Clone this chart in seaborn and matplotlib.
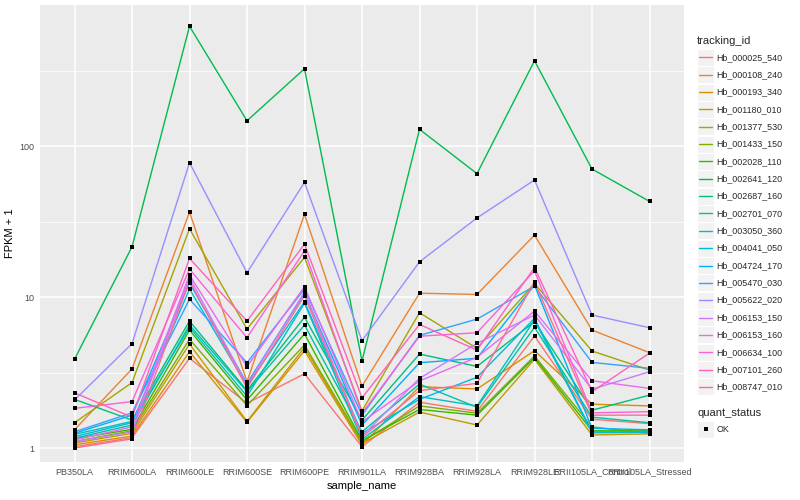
import numpy as np
import pandas as pd
import matplotlib
matplotlib.use('Agg')
import matplotlib.pyplot as plt
import seaborn as sns

# ---------------------------------------------------------------
# data (FPKM + 1)
# ---------------------------------------------------------------
sample_names = ['PB350LA', 'RRIM600LA', 'RRIM600LE', 'RRIM600SE', 'RRIM600PE',
                'RRIM901LA', 'RRIM928BA', 'RRIM928LA', 'RRIM928LE',
                'RRII105LA_Control', 'RRII105LA_Stressed']

tracking_ids = ['Hb_000025_540', 'Hb_000108_240', 'Hb_000193_340', 'Hb_001180_010',
                'Hb_001377_530', 'Hb_001433_150', 'Hb_002028_110', 'Hb_002641_120',
                'Hb_002687_160', 'Hb_002701_070', 'Hb_003050_360', 'Hb_004041_050',
                'Hb_004724_170', 'Hb_005470_030', 'Hb_005622_020', 'Hb_006153_150',
                'Hb_006153_160', 'Hb_006634_100', 'Hb_007101_260', 'Hb_008747_010']

fpkm_000025_540 = [1.02, 1.17, 3.93, 1.98, 3.10, 1.02, 2.01, 1.75, 5.52, 1.55, 1.45]
fpkm_000108_240 = [1.32, 3.34, 36.5, 2.75, 35.3, 2.57, 10.6, 10.4, 25.7, 6.04, 4.28]
fpkm_000193_340 = [1.05, 1.20, 4.34, 1.48, 4.41, 1.05, 2.55, 2.46, 4.41, 1.95, 1.90]
fpkm_001180_010 = [1.08, 1.25, 4.88, 1.50, 4.64, 1.07, 1.73, 1.42, 3.87, 1.22, 1.24]
fpkm_001377_530 = [1.47, 2.71, 28.3, 6.14, 18.3, 1.76, 7.87, 4.57, 12.3, 4.39, 3.28]
fpkm_001433_150 = [1.105, 1.30, 5.25, 1.91, 4.81, 1.10, 1.90, 1.70, 4.07, 1.38, 1.25]
fpkm_002028_110 = [1.15, 1.33, 6.04, 2.08, 5.69, 1.12, 1.80, 1.65, 3.97, 1.30, 1.30]
fpkm_002641_120 = [3.87, 21.5, 621, 147, 325, 3.77, 129, 65.6, 367, 70.4, 43.0]
fpkm_002687_160 = [2.10, 1.53, 6.93, 2.40, 7.34, 1.53, 4.19, 3.47, 6.86, 1.78, 2.24]
fpkm_002701_070 = [1.16, 1.42, 6.53, 2.36, 6.52, 1.28, 2.65, 1.86, 6.30, 1.60, 1.47]
fpkm_003050_360 = [1.23, 1.50, 6.30, 2.20, 9.10, 1.14, 2.19, 1.90, 7.05, 1.26, 1.27]
fpkm_004041_050 = [1.19, 1.47, 11.3, 2.58, 9.30, 1.25, 2.10, 2.94, 7.22, 1.28, 1.28]
fpkm_004724_170 = [1.25, 1.65, 12.4, 2.68, 10.6, 1.42, 3.67, 3.93, 12.0, 1.35, 1.32]
fpkm_005470_030 = [1.28, 1.71, 9.66, 3.67, 11.3, 1.65, 5.57, 7.14, 11.8, 3.69, 3.37]
fpkm_005622_020 = [2.08, 4.91, 77.5, 14.5, 57.5, 5.14, 17.1, 33.4, 59.6, 7.60, 6.26]
fpkm_006153_150 = [1.10, 1.28, 13.5, 2.62, 10.8, 1.20, 2.89, 4.93, 7.60, 2.45, 3.20]
fpkm_006153_160 = [1.13, 1.38, 14.0, 3.46, 11.7, 1.49, 2.78, 3.99, 8.07, 2.79, 2.48]
fpkm_006634_100 = [1.83, 2.03, 15.3, 5.38, 20.2, 1.70, 5.50, 5.80, 14.9, 1.71, 1.74]
fpkm_007101_260 = [2.32, 1.60, 18.0, 6.93, 22.4, 2.15, 6.58, 4.45, 15.7, 2.36, 4.25]
fpkm_008747_010 = [1.00, 1.15, 12.8, 2.50, 10.2, 1.18, 2.40, 2.68, 12.6, 1.65, 1.65]

all_series = [fpkm_000025_540, fpkm_000108_240, fpkm_000193_340, fpkm_001180_010,
              fpkm_001377_530, fpkm_001433_150, fpkm_002028_110, fpkm_002641_120,
              fpkm_002687_160, fpkm_002701_070, fpkm_003050_360, fpkm_004041_050,
              fpkm_004724_170, fpkm_005470_030, fpkm_005622_020, fpkm_006153_150,
              fpkm_006153_160, fpkm_006634_100, fpkm_007101_260, fpkm_008747_010]

y_ticks = [1, 10, 100]
y_minor = [10 ** 0.5, 10 ** 1.5, 10 ** 2.5]

# ggplot2 default hue palette for 20 levels
hue_colors = ['#F8766D', '#EA8331', '#D89000', '#C09B00', '#A3A500', '#7CAE00',
              '#39B600', '#00BB4E', '#00BF7D', '#00C1A3', '#00BFC4', '#00BAE0',
              '#00B0F6', '#35A2FF', '#9590FF', '#C77CFF', '#E76BF3', '#FA62DB',
              '#FF62BC', '#FF6C91']

rows = []
for tid, vals in zip(tracking_ids, all_series):
    for s, v in zip(sample_names, vals):
        rows.append({'tracking_id': tid, 'sample_name': s, 'fpkm1': v, 'quant_status': 'OK'})
df = pd.DataFrame(rows)
df['xpos'] = df['sample_name'].map({s: i for i, s in enumerate(sample_names)})

# ---------------------------------------------------------------
# figure
# ---------------------------------------------------------------
sns.set_style('white')
plt.rcParams['font.family'] = ['Liberation Sans', 'DejaVu Sans']

W, H = 800, 500
fig = plt.figure(figsize=(8, 5), dpi=100)
ax = fig.add_axes([40 / W, 1 - 462 / H, (684 - 40) / W, (462 - 5) / H])
ax.set_facecolor('#EBEBEB')

sns.lineplot(data=df, x='xpos', y='fpkm1', hue='tracking_id', hue_order=tracking_ids,
             palette=hue_colors, sort=False, estimator=None, units='tracking_id',
             linewidth=1.0, legend=False, ax=ax, zorder=3)
sns.scatterplot(data=df, x='xpos', y='fpkm1', color='black', marker='s', s=11,
                linewidth=0, legend=False, ax=ax, zorder=4)

ax.set_yscale('log')
ax.set_ylim(10 ** -0.0927, 10 ** 2.934)
ax.set_xlim(-0.6, len(sample_names) - 1 + 0.6)

ax.set_yticks(y_ticks)
ax.set_yticklabels([str(t) for t in y_ticks])
ax.set_yticks(y_minor, minor=True)
ax.set_xticks(range(len(sample_names)))
ax.set_xticklabels(sample_names)
ax.xaxis.set_minor_locator(matplotlib.ticker.NullLocator())

ax.grid(which='major', color='white', linewidth=1.1, zorder=0)
ax.grid(which='minor', axis='y', color='white', linewidth=0.55, zorder=0)
ax.set_axisbelow(True)
for sp in ax.spines.values():
    sp.set_visible(False)

ax.tick_params(which='major', length=2.5, width=0.8, color='#333333', labelcolor='#4D4D4D',
               labelsize=6.5, pad=1.5)
ax.tick_params(which='minor', length=0)
ax.set_xlabel('sample_name', fontsize=8, color='black', labelpad=3)
ax.set_ylabel('FPKM + 1', fontsize=8, color='black', labelpad=3)

# ---------------------------------------------------------------
# legends (ggplot style, drawn in pixel coordinates)
# ---------------------------------------------------------------
lax = fig.add_axes([0, 0, 1, 1])
lax.set_xlim(0, W)
lax.set_ylim(H, 0)
lax.axis('off')

key_x0, key_w, key_h = 697, 17, 17
row0, row_step = 57.3, 17.35
lax.text(697, 40.5, 'tracking_id', fontsize=8, va='center', ha='left')
for i, (tid, col) in enumerate(zip(tracking_ids, hue_colors)):
    yc = row0 + i * row_step
    lax.add_patch(plt.Rectangle((key_x0, yc - key_h / 2), key_w, key_h,
                                facecolor='#F2F2F2', edgecolor='white', linewidth=0.8))
    lax.plot([key_x0 + 2, key_x0 + key_w - 2], [yc, yc], color=col, linewidth=1.0)
    lax.text(716.5, yc, tid, fontsize=6.4, va='center', ha='left')

lax.text(697, 412.5, 'quant_status', fontsize=8, va='center', ha='left')
yc = 429
lax.add_patch(plt.Rectangle((key_x0, yc - key_h / 2), key_w, key_h,
                            facecolor='#F2F2F2', edgecolor='white', linewidth=0.8))
lax.scatter([key_x0 + key_w / 2], [yc], color='black', marker='s', s=8, linewidth=0)
lax.text(716.5, yc, 'OK', fontsize=6.4, va='center', ha='left')

fig.savefig('out.png', dpi=100)
